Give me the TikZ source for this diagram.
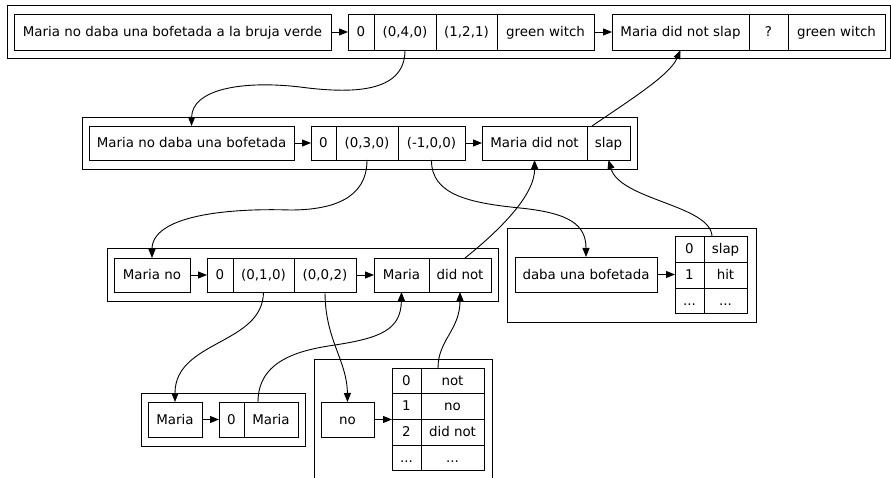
\documentclass[tikz,border=0pt]{standalone}
\usepackage{fontspec}
\setmainfont{DejaVu Sans}
\usetikzlibrary{arrows.meta,calc}
\tikzset{
  cell/.style={draw, line width=0.9pt, inner sep=0pt, outer sep=0pt, text height=9.7pt, text depth=0pt, font=\fontsize{13.4}{16}\selectfont},
  clusterbox/.style={draw, line width=0.9pt, inner sep=0pt, outer sep=0pt},
  edge/.style={line width=0.9pt, -{Triangle[length=9pt,width=7pt]}},
}
\newcommand\rc[7][cell]{\node[#1, minimum width={#5-#3}, minimum height={#6-#4}] (#2) at ({(#3+#5)/2},{(#4+#6)/2}) {#7};}
\begin{document}
\begin{tikzpicture}[x=1pt,y=-1pt]
\clip (0,0) rectangle (891,478);
\fill[white] (0,0) rectangle (891,478);
% ---------- cluster A
\rc[clusterbox]{A}{7}{5}{890}{58}{}
\rc{A0}{14}{14}{331}{50}{Maria no daba una bofetada a la bruja verde}
\rc{A1a}{348}{14}{374}{50}{0}
\rc{A1b}{374}{14}{436}{50}{(0,4,0)}
\rc{A1c}{436}{14}{497}{50}{(1,2,1)}
\rc{A1d}{497}{14}{594}{50}{green witch}
\rc{A2a}{612}{14}{749}{50}{Maria did not slap}
\rc{A2b}{749}{14}{788}{50}{?}
\rc{A2c}{788}{14}{885}{50}{green witch}
% ---------- cluster B
\rc[clusterbox]{B}{82}{117}{637}{169}{}
\rc{B0}{89}{126}{294}{160}{Maria no daba una bofetada}
\rc{B1a}{311}{126}{336}{160}{0}
\rc{B1b}{336}{126}{398}{160}{(0,3,0)}
\rc{B1c}{398}{126}{465}{160}{(-1,0,0)}
\rc{B2a}{482}{126}{587}{160}{Maria did not}
\rc{B2b}{587}{126}{630}{160}{slap}
% ---------- cluster C
\rc[clusterbox]{C}{107}{248}{498}{301}{}
\rc{C0}{114}{258}{190}{292}{Maria no}
\rc{C1a}{207}{258}{233}{292}{0}
\rc{C1b}{233}{258}{294}{292}{(0,1,0)}
\rc{C1c}{294}{258}{356}{292}{(0,0,2)}
\rc{C2a}{374}{258}{429}{292}{Maria}
\rc{C2b}{429}{258}{491}{292}{did not}
% ---------- cluster D
\rc[clusterbox]{D}{507}{228}{756}{322}{}
\rc{D0}{515}{257}{657}{292}{daba una bofetada}
\rc{D0a}{675}{236}{704}{262}{0}
\rc{D0b}{704}{236}{747}{262}{slap}
\rc{D1a}{675}{262}{704}{288}{1}
\rc{D1b}{704}{262}{747}{288}{hit}
\rc{D2a}{675}{288}{704}{313}{...}
\rc{D2b}{704}{288}{747}{313}{...}
% ---------- cluster E
\rc[clusterbox]{E}{141}{393}{305}{446}{}
\rc{E0}{148}{402}{202}{437}{Maria}
\rc{E1a}{219}{402}{244}{437}{0}
\rc{E1b}{244}{402}{298}{437}{Maria}
% ---------- cluster F
\rc[clusterbox]{F}{314}{359}{492}{495}{}
\rc{F0}{321}{402}{374}{437}{no}
\rc{F0a}{392}{368}{421}{393}{0}
\rc{F0b}{421}{368}{484}{393}{not}
\rc{F1a}{392}{393}{421}{419}{1}
\rc{F1b}{421}{393}{484}{419}{no}
\rc{F2a}{392}{419}{421}{445}{2}
\rc{F2b}{421}{419}{484}{445}{did not}
\rc{F3a}{392}{445}{421}{470}{...}
\rc{F3b}{421}{445}{484}{470}{...}
% ---------- straight arrows inside clusters
\draw[edge] (A0.east) -- (A1a.west);
\draw[edge] (A1d.east) -- (A2a.west);
\draw[edge] (B0.east) -- (B1a.west);
\draw[edge] (B1c.east) -- (B2a.west);
\draw[edge] (C0.east) -- (C1a.west);
\draw[edge] (C1c.east) -- (C2a.west);
\draw[edge] (D0.east) -- (D0.east -| D1a.west);
\draw[edge] (E0.east) -- (E1a.west);
\draw[edge] (F0.east) -- (F0.east -| F1a.west);
% ---------- curved connectors
\draw[edge] (A1b.south) .. controls (405,90) and (360,95) .. (300,87)
  .. controls (240,80) and (192,90) .. (B0.north);
\draw[edge] ($(B2b.north west)+(5,0)$) .. controls (630,100) and (670,75) .. (A2a.south);
\draw[edge] (B1b.south) .. controls (367,200) and (330,210) .. (290,210)
  .. controls (230,208) and (152,215) .. (C0.north);
\draw[edge] (B1c.south) .. controls (431,195) and (470,203) .. (520,208)
  .. controls (570,213) and (586,225) .. (D0.north);
\draw[edge] ($(C2b.north)+(5,0)$) .. controls (500,230) and (535,195) .. (B2a.south);
\draw[edge] ($(D0b.north west)+(8,0)$) .. controls (710,205) and (620,200) .. (B2b.south);
\draw[edge] (C1b.south) .. controls (263,345) and (175,340) .. (E0.north);
\draw[edge] (C1c.south) .. controls (325,340) and (347,360) .. (F0.north);
\draw[edge] ($(E1b.north west)+(14,0)$) .. controls (258,360) and (300,350) .. (335,345)
  .. controls (380,338) and (401,330) .. (C2a.south);
\draw[edge] ($(F0b.north west)+(17,0)$) .. controls (438,340) and (460,330) .. (C2b.south);
\end{tikzpicture}
\end{document}
